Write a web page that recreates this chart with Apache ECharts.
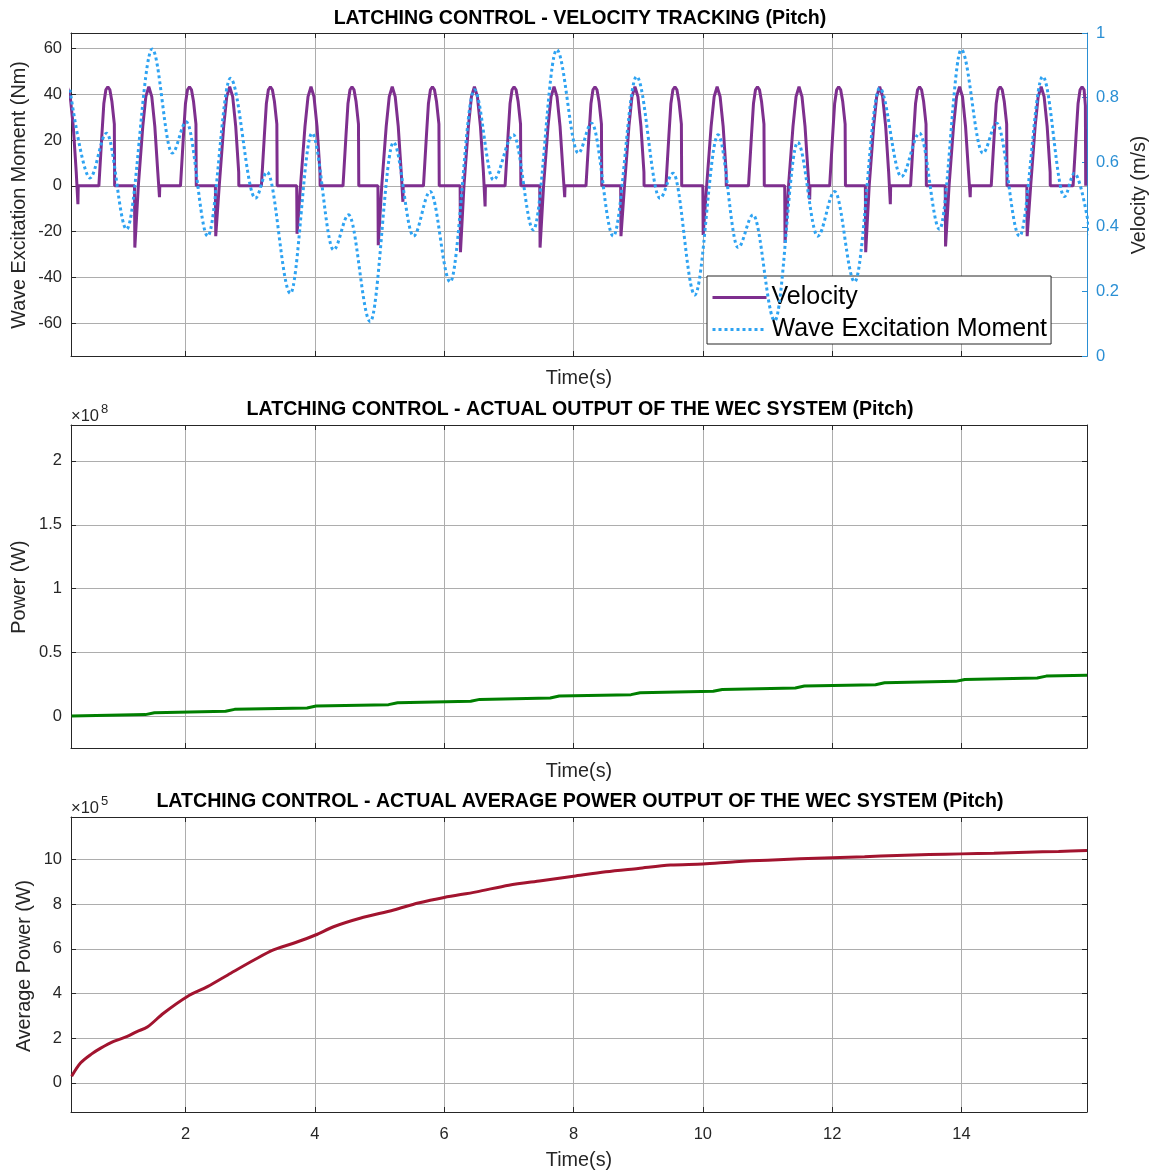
<!DOCTYPE html>
<html>
<head>
<meta charset="utf-8">
<title>Latching control – pitch</title>
<script src="https://cdn.jsdelivr.net/npm/echarts@6/dist/echarts.min.js"></script>
<style>
  html, body { margin: 0; padding: 0; background: #fff; }
  #chart { width: 1155px; height: 1175px; }
</style>
</head>
<body>
<div id="chart"></div>
<script>
// ---- time axis ----
const timeMin = 0.23;
const timeMax = 15.94;
const timeTicks = [2, 4, 6, 8, 10, 12, 14];

// ---- panel 1: velocity tracking ----
const momentTicks = [-60, -40, -20, 0, 20, 40, 60];
const velocityTicks = [0, 0.2, 0.4, 0.6, 0.8, 1];

// latched velocity trace [time s, value]
const velocity = [
  [0.172,43.3],[0.218,39],[0.265,26],[0.311,6],[0.337,-8],[0.342,0],
  [0.661,0],[0.707,22],[0.738,36],[0.769,42],[0.800,43.3],[0.831,42],[0.862,37],[0.900,27],[0.905,0],
  [1.212,0],[1.217,-27],[1.271,0],[1.340,26],[1.387,39],[1.433,43.3],[1.479,39],[1.526,26],[1.572,6],[1.598,-5],[1.603,0],
  [1.923,0],[1.969,22],[2.000,36],[2.031,42],[2.062,43.3],[2.093,42],[2.124,37],[2.162,27],[2.167,0],
  [2.463,0],[2.468,-22],[2.522,0],[2.591,26],[2.638,39],[2.684,43.3],[2.730,39],[2.777,26],[2.823,6],[2.825,0],
  [3.174,0],[3.220,22],[3.251,36],[3.282,42],[3.313,43.3],[3.344,42],[3.375,37],[3.413,27],[3.418,0],
  [3.720,0],[3.725,-21],[3.779,0],[3.848,26],[3.895,39],[3.941,43.3],[3.987,39],[4.034,26],[4.080,6],[4.082,0],
  [4.436,0],[4.482,22],[4.513,36],[4.544,42],[4.575,43.3],[4.606,42],[4.637,37],[4.675,27],[4.680,0],
  [4.976,0],[4.981,-26],[5.035,0],[5.104,26],[5.151,39],[5.197,43.3],[5.243,39],[5.290,26],[5.336,6],[5.362,-7],[5.367,0],
  [5.680,0],[5.726,22],[5.757,36],[5.788,42],[5.819,43.3],[5.850,42],[5.881,37],[5.919,27],[5.924,0],
  [6.247,0],[6.252,-29],[6.306,0],[6.375,26],[6.422,39],[6.468,43.3],[6.514,39],[6.561,26],[6.607,6],[6.633,-9],[6.638,0],
  [6.942,0],[6.988,22],[7.019,36],[7.050,42],[7.081,43.3],[7.112,42],[7.143,37],[7.181,27],[7.186,0],
  [7.478,0],[7.483,-27],[7.537,0],[7.606,26],[7.653,39],[7.699,43.3],[7.745,39],[7.792,26],[7.838,6],[7.864,-5],[7.869,0],
  [8.193,0],[8.239,22],[8.270,36],[8.301,42],[8.332,43.3],[8.363,42],[8.394,37],[8.432,27],[8.437,0],
  [8.729,0],[8.734,-22],[8.788,0],[8.857,26],[8.904,39],[8.950,43.3],[8.996,39],[9.043,26],[9.089,6],[9.091,0],
  [9.429,0],[9.475,22],[9.506,36],[9.537,42],[9.568,43.3],[9.599,42],[9.630,37],[9.668,27],[9.673,0],
  [10.000,0],[10.005,-21.5],[10.059,0],[10.128,26],[10.175,39],[10.221,43.3],[10.267,39],[10.314,26],[10.360,6],[10.362,0],
  [10.706,0],[10.752,22],[10.783,36],[10.814,42],[10.845,43.3],[10.876,42],[10.907,37],[10.945,27],[10.950,0],
  [11.266,0],[11.271,-25],[11.325,0],[11.394,26],[11.441,39],[11.487,43.3],[11.533,39],[11.580,26],[11.626,6],[11.652,-6],[11.657,0],
  [11.961,0],[12.007,22],[12.038,36],[12.069,42],[12.100,43.3],[12.131,42],[12.162,37],[12.200,27],[12.205,0],
  [12.513,0],[12.518,-29],[12.572,0],[12.641,26],[12.688,39],[12.734,43.3],[12.780,39],[12.827,26],[12.873,6],[12.899,-8],[12.904,0],
  [13.212,0],[13.258,22],[13.289,36],[13.320,42],[13.351,43.3],[13.382,42],[13.413,37],[13.451,27],[13.456,0],
  [13.748,0],[13.753,-26.5],[13.807,0],[13.876,26],[13.923,39],[13.969,43.3],[14.015,39],[14.062,26],[14.108,6],[14.134,-5],[14.139,0],
  [14.459,0],[14.505,22],[14.536,36],[14.567,42],[14.598,43.3],[14.629,42],[14.660,37],[14.698,27],[14.703,0],
  [15.010,0],[15.015,-22],[15.069,0],[15.138,26],[15.185,39],[15.231,43.3],[15.277,39],[15.324,26],[15.370,6],[15.372,0],
  [15.725,0],[15.771,22],[15.802,36],[15.833,42],[15.864,43.3],[15.895,42],[15.915,35],[15.920,0]
];

// wave excitation moment, turning points [time s, Nm]
const waveMoment = [
  [0.214,42],[0.522,3.4],[0.780,23],[1.089,-19],[1.486,59.8],[1.795,14.3],[2.013,28],[2.344,-22],
  [2.695,47],[3.081,-5.4],[3.262,6],[3.622,-47],[3.956,23],[4.290,-28],[4.522,-12.7],[4.857,-59.4],
  [5.217,19],[5.526,-22],[5.784,-2.5],[6.093,-42],[6.468,42],
  [6.761,2.6],[7.070,22.3],[7.379,-19.3],[7.741,59.5],[8.074,14.3],[8.281,27.4],[8.615,-22],
  [8.976,47.8],[9.336,-5.4],[9.541,5.5],[9.876,-47.7],[10.236,22.3],[10.545,-27],[10.777,-12.7],[11.112,-59],
  [11.467,19],[11.776,-22],[12.039,-2.5],[12.347,-42],[12.734,42.7],
  [13.069,4],[13.351,23],[13.660,-19],[13.996,59.5],[14.329,14.3],[14.545,27.4],[14.896,-22],
  [15.256,47.8],[15.591,-4.7],[15.745,5.5],[16.130,-47]
];

// ---- panel 2: actual output power (x 1e8 W) ----
const powerTicks = [0, 0.5, 1, 1.5, 2];
const powerE8 = [
  [0.24,0.006],[1.38,0.016],[1.52,0.031],[2.62,0.042],[2.76,0.057],[3.88,0.068],[4.02,0.083],
  [5.14,0.094],[5.28,0.109],[6.41,0.120],[6.55,0.135],[7.64,0.146],[7.78,0.161],[8.89,0.172],
  [9.03,0.187],[10.16,0.198],[10.30,0.213],[11.43,0.224],[11.57,0.239],[12.67,0.250],[12.81,0.265],
  [13.91,0.276],[14.05,0.291],[15.17,0.302],[15.31,0.317],[15.94,0.323]
];

// ---- panel 3: average output power (x 1e5 W) ----
const avgPowerTicks = [0, 2, 4, 6, 8, 10];
const avgPowerE5 = [
  [0.24,0.3],[0.38,0.9],[0.55,1.3],[0.69,1.56],[0.89,1.86],[1.10,2.08],[1.25,2.3],[1.41,2.5],
  [1.66,3.12],[2.03,3.87],[2.34,4.31],[2.70,4.91],[3.06,5.5],[3.36,5.95],[3.67,6.25],[4.01,6.62],
  [4.29,6.99],[4.70,7.37],[5.22,7.74],[5.60,8.05],[6.00,8.3],[6.50,8.55],[7.00,8.85],[7.50,9.05],
  [8.00,9.25],[8.50,9.45],[9.00,9.6],[9.50,9.75],[10.00,9.8],[10.50,9.9],[11.00,9.97],[11.50,10.03],
  [12.00,10.08],[12.50,10.12],[13.00,10.18],[13.50,10.22],[14.00,10.25],[14.50,10.28],[15.00,10.32],
  [15.50,10.36],[15.94,10.4]
];

// ---- styling ----
const FONT = '"Liberation Sans", Arial, Helvetica, sans-serif';
const FRAME = '#262626';
const GRIDLINE = '#adadad';
const RIGHT_BLUE = '#2a8fd4';
const TICK_FONT = 16.5;
const LABEL_FONT = '19.8px ' + FONT;
const grids = [
  { left: 71, top: 33, width: 1016, height: 323 },
  { left: 71, top: 425, width: 1016, height: 323 },
  { left: 71, top: 817, width: 1016, height: 295 }
];

function timeAxes(gi, withLabels) {
  const base = {
    type: 'value', gridIndex: gi, min: timeMin, max: timeMax,
    axisLine: { show: true, onZero: false, lineStyle: { color: FRAME, width: 1 } },
    axisTick: { show: true, inside: true, length: 5, customValues: timeTicks, lineStyle: { color: FRAME } }
  };
  return [
    Object.assign({}, base, {
      position: 'bottom',
      axisLabel: { show: withLabels, customValues: timeTicks, color: FRAME, fontSize: TICK_FONT, fontFamily: FONT, margin: 14 },
      splitLine: { show: true, lineStyle: { color: GRIDLINE, width: 1 } }
    }),
    Object.assign({}, base, {
      position: 'top',
      axisLabel: { show: false },
      splitLine: { show: false }
    })
  ];
}

function valueAxes(gi, min, max, ticks) {
  const base = {
    type: 'value', gridIndex: gi, min: min, max: max,
    axisLine: { show: true, onZero: false, lineStyle: { color: FRAME, width: 1 } },
    axisTick: { show: true, inside: true, length: 5, customValues: ticks, lineStyle: { color: FRAME } }
  };
  return [
    Object.assign({}, base, {
      position: 'left',
      axisLabel: { show: true, customValues: ticks, color: FRAME, fontSize: TICK_FONT, fontFamily: FONT, margin: 9, padding: [5, 0, 0, 0] },
      splitLine: { show: true, lineStyle: { color: GRIDLINE, width: 1 } }
    }),
    Object.assign({}, base, {
      position: 'right',
      axisLabel: { show: false },
      splitLine: { show: false }
    })
  ];
}

const xAxis = [].concat(timeAxes(0, false), timeAxes(1, false), timeAxes(2, true));

const yAxis = [];
yAxis.push(valueAxes(0, -74.4, 66.8, momentTicks)[0]);
yAxis.push({
  type: 'value', gridIndex: 0, position: 'right', min: 0, max: 1,
  axisLine: { show: true, onZero: false, lineStyle: { color: RIGHT_BLUE, width: 1 } },
  axisTick: { show: true, inside: true, length: 5, customValues: velocityTicks, lineStyle: { color: RIGHT_BLUE } },
  axisLabel: { show: true, customValues: velocityTicks, color: RIGHT_BLUE, fontSize: TICK_FONT, fontFamily: FONT, margin: 9, padding: [5, 0, 0, 0] },
  splitLine: { show: false }
});
yAxis.push.apply(yAxis, valueAxes(1, -0.245, 2.28, powerTicks));
yAxis.push.apply(yAxis, valueAxes(2, -1.3, 11.9, avgPowerTicks));

function txt(text, x, y, opts) {
  return {
    type: 'text', x: x, y: y, rotation: (opts && opts.rotation) || 0, z: 100,
    style: Object.assign({
      text: text, fill: FRAME, font: LABEL_FONT,
      textAlign: 'center', textVerticalAlign: 'middle'
    }, (opts && opts.style) || {})
  };
}
const bold = { fill: '#000', font: 'bold 19.6px ' + FONT };

const graphic = [
  txt('LATCHING CONTROL - VELOCITY TRACKING (Pitch)', 580, 19, { style: bold }),
  txt('LATCHING CONTROL - ACTUAL OUTPUT OF THE WEC SYSTEM (Pitch)', 580, 410, { style: bold }),
  txt('LATCHING CONTROL - ACTUAL AVERAGE POWER OUTPUT OF THE WEC SYSTEM (Pitch)', 580, 802, { style: bold }),
  txt('Time(s)', 579, 379),
  txt('Time(s)', 579, 772),
  txt('Time(s)', 579, 1161),
  txt('Wave Excitation Moment (Nm)', 20, 195, { rotation: Math.PI / 2 }),
  txt('Velocity (m/s)', 1140, 195, { rotation: Math.PI / 2 }),
  txt('Power (W)', 20, 587, { rotation: Math.PI / 2 }),
  txt('Average Power (W)', 25, 966, { rotation: Math.PI / 2 }),
  txt('×10', 71, 416, { style: { textAlign: 'left', font: '16.5px ' + FONT } }),
  txt('8', 101, 409, { style: { textAlign: 'left', font: '13px ' + FONT } }),
  txt('×10', 71, 808, { style: { textAlign: 'left', font: '16.5px ' + FONT } }),
  txt('5', 101, 801, { style: { textAlign: 'left', font: '13px ' + FONT } })
];

const chart = echarts.init(document.getElementById('chart'), null, { renderer: 'canvas' });
chart.setOption({
  animation: false,
  backgroundColor: '#fff',
  grid: grids,
  xAxis: xAxis,
  yAxis: yAxis,
  legend: {
    data: ['Velocity', 'Wave Excitation Moment'],
    orient: 'vertical', left: 707, top: 276,
    itemWidth: 54, itemHeight: 25, itemGap: 7,
    padding: [9, 4, 2, 4],
    itemStyle: { opacity: 0 },
    lineStyle: { width: 3 },
    backgroundColor: '#fff', borderColor: FRAME, borderWidth: 1, borderRadius: 0,
    textStyle: { fontSize: 25, color: '#000', fontFamily: FONT },
    selectedMode: false
  },
  graphic: graphic,
  series: [
    {
      name: 'Velocity', type: 'line', xAxisIndex: 0, yAxisIndex: 0,
      data: velocity, symbol: 'none', z: 3,
      lineStyle: { color: '#7E2F8E', width: 3 }, itemStyle: { color: '#7E2F8E' }
    },
    {
      name: 'Wave Excitation Moment', type: 'line', xAxisIndex: 0, yAxisIndex: 0,
      data: waveMoment, symbol: 'none', z: 4,
      smooth: 0.35, smoothMonotone: 'x',
      lineStyle: { color: '#2EA3F2', width: 3, type: [3, 3] }, itemStyle: { color: '#2EA3F2' }
    },
    {
      name: 'Power', type: 'line', xAxisIndex: 2, yAxisIndex: 2,
      data: powerE8, symbol: 'none',
      lineStyle: { color: '#007F00', width: 3 }
    },
    {
      name: 'Average Power', type: 'line', xAxisIndex: 4, yAxisIndex: 4,
      data: avgPowerE5, symbol: 'none', smooth: 0.3,
      lineStyle: { color: '#A2142F', width: 3 }
    }
  ]
});
</script>
</body>
</html>
